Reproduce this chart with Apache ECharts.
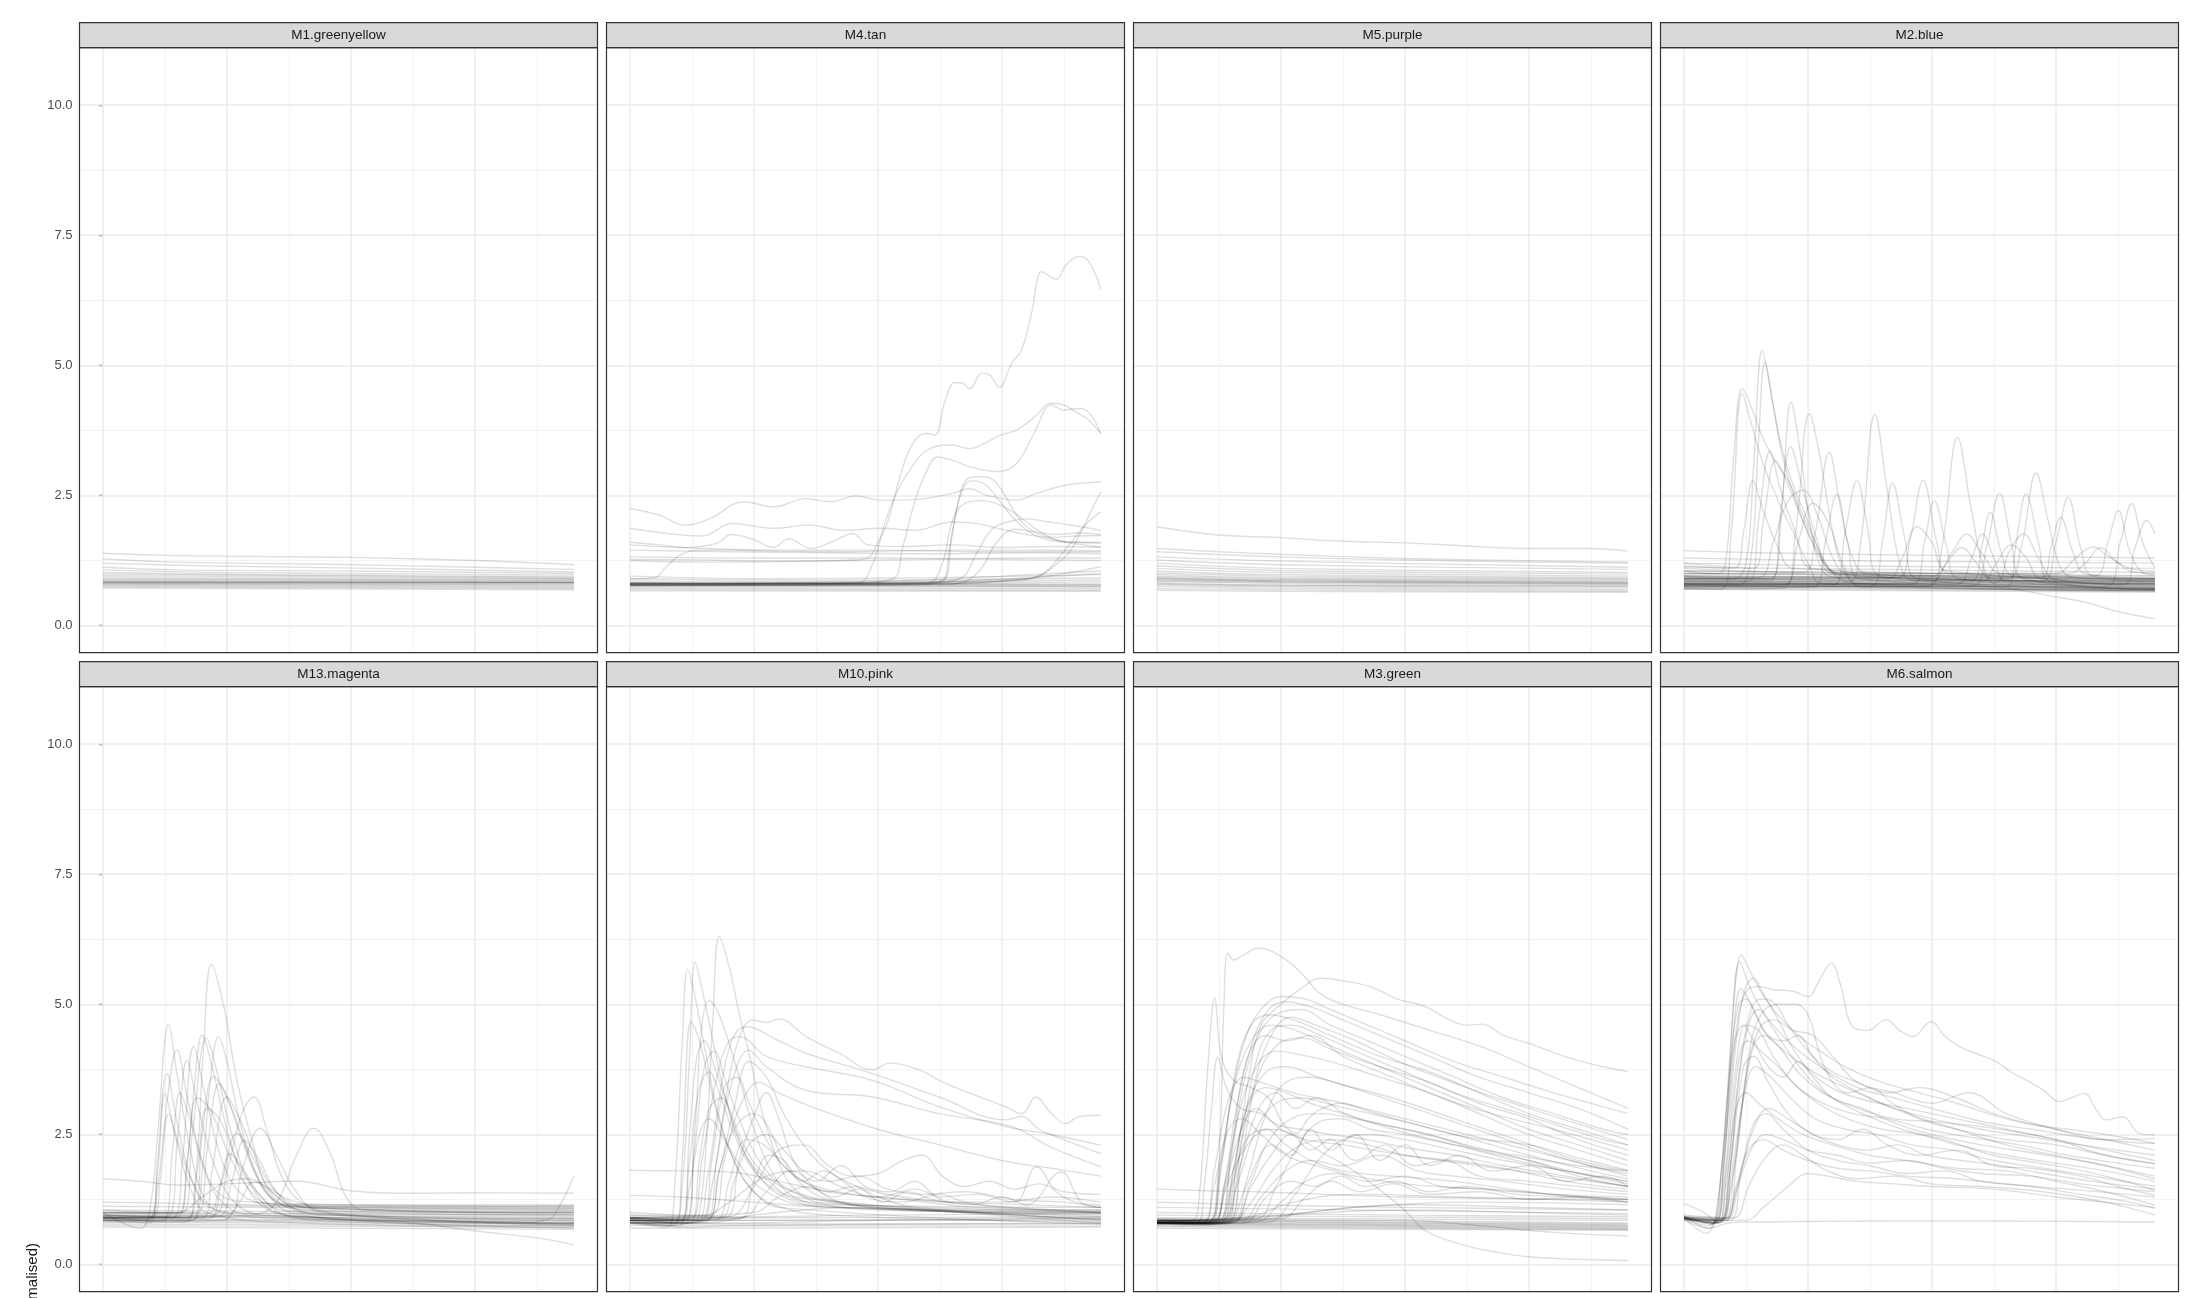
<!DOCTYPE html>
<html><head><meta charset="utf-8">
<script src="https://cdn.jsdelivr.net/npm/echarts@6/dist/echarts.min.js"></script>
<style>html,body{margin:0;padding:0;background:#fff}#chart{width:2200px;height:1298px}</style>
</head><body><div id="chart"></div>
<script>
// ---------- labels / breaks ----------
const panelNames = ['M1.greenyellow','M4.tan','M5.purple','M2.blue','M13.magenta','M10.pink','M3.green','M6.salmon'];
const yMajorBreaks = [0, 2.5, 5, 7.5, 10];
const yMinorBreaks = [1.25, 3.75, 6.25, 8.75];
const xMajorBreaks = [0, 50, 100, 150];
const xMinorBreaks = [25, 75, 125, 175];
const yAxisTitle = 'Fluorescence (normalised)';

// ---------- traces: each line is a list of [time, value] ----------
const m1Lines = [
 [[0,1.39],[25,1.35],[60,1.33],[100,1.31],[150,1.25],[190,1.17]],
 [[0,1.28],[30,1.22],[90,1.18],[150,1.12],[190,1.08]],
 [[0,1.2],[40,1.15],[110,1.1],[190,1.03]],
 [[0,1.12],[30,1.07],[100,1.05],[190,1.0]],
 [[0,1.07],[50,1.02],[190,0.97]],
 [[0,1.02],[60,0.98],[190,0.94]],
 [[0,0.99],[190,0.92]],
 [[0,0.96],[190,0.9]],
 [[0,0.93],[100,0.9],[190,0.89]],
 [[0,0.9],[190,0.87]],
 [[0,0.88],[190,0.86]],
 [[0,0.86],[190,0.84]],
 [[0,0.85],[190,0.83]],
 [[0,0.84],[190,0.83]],
 [[0,0.83],[190,0.82]],
 [[0,0.83],[190,0.83]],
 [[0,0.82],[190,0.81]],
 [[0,0.81],[190,0.79]],
 [[0,0.8],[190,0.77]],
 [[0,0.78],[190,0.75]],
 [[0,0.76],[190,0.73]],
 [[0,0.74],[190,0.71]],
 [[0,0.72],[190,0.69]]
];

const m4Lines = [
 [[0,1.27],[30,1.26],[60,1.24],[90,1.26],[96,1.3],[100,1.6],[104,2.0],[108,2.7],[112,3.3],[116,3.62],[120,3.69],[123,3.66],[127,4.3],[131,4.67],[134,4.66],[137,4.55],[142,4.85],[145,4.82],[149,4.58],[154,5.04],[158,5.3],[162,6.0],[166,6.8],[169,6.72],[172,6.65],[176,6.93],[181,7.09],[185,7.0],[190,6.46]],
 [[0,0.82],[50,0.8],[92,0.82],[98,1.2],[103,2.0],[108,2.6],[113,3.0],[118,3.3],[124,3.45],[130,3.47],[137,3.4],[143,3.5],[149,3.65],[156,3.76],[163,4.0],[170,4.27],[175,4.24],[180,4.1],[185,3.95],[190,3.69]],
 [[0,0.82],[90,0.82],[106,0.9],[110,1.5],[115,2.4],[120,3.0],[124,3.24],[130,3.18],[137,3.05],[145,2.97],[149,2.96],[156,3.12],[163,3.69],[170,4.24],[175,4.14],[181,4.17],[185,4.1],[190,3.69]],
 [[0,0.78],[100,0.8],[125,0.85],[129,1.5],[133,2.5],[137,2.84],[142,2.86],[146,2.82],[150,2.6],[155,2.2],[160,1.9],[168,1.7],[176,1.6],[183,1.55],[190,1.51]],
 [[0,0.76],[110,0.78],[126,0.85],[130,1.8],[134,2.6],[138,2.78],[143,2.72],[149,2.4],[156,2.0],[163,1.75],[172,1.62],[180,1.6],[190,1.58]],
 [[0,0.8],[120,0.82],[126,1.2],[130,2.0],[135,2.35],[142,2.4],[150,2.3],[157,2.1],[164,1.85],[172,1.65],[181,1.6],[190,1.6]],
 [[0,2.25],[12,2.12],[22,1.93],[32,2.05],[46,2.38],[58,2.28],[71,2.44],[81,2.38],[91,2.49],[101,2.41],[115,2.42],[130,2.54],[137,2.63],[144,2.5],[156,2.41],[164,2.54],[176,2.7],[190,2.76]],
 [[0,1.87],[15,1.77],[29,1.72],[41,1.96],[58,1.87],[72,1.93],[87,1.83],[101,1.87],[115,1.83],[130,1.99],[140,1.96],[150,1.85],[160,1.75],[170,1.7],[180,1.72],[190,1.73]],
 [[0,1.6],[12,1.55],[22,1.5],[35,1.58],[41,1.75],[50,1.65],[58,1.5],[64,1.67],[73,1.48],[82,1.62],[90,1.77],[96,1.55],[110,1.52],[130,1.55],[150,1.5],[170,1.52],[190,1.5]],
 [[0,1.55],[30,1.48],[60,1.45],[100,1.45],[140,1.42],[190,1.42]],
 [[0,1.45],[40,1.42],[80,1.4],[120,1.38],[160,1.4],[190,1.38]],
 [[0,1.25],[30,1.22],[60,1.23],[90,1.25],[130,1.28],[160,1.3],[190,1.3]],
 [[0,1.32],[50,1.3],[100,1.3],[150,1.27],[190,1.25]],
 [[0,0.9],[10,0.92],[14,1.1],[20,1.35],[28,1.45],[40,1.45],[60,1.43],[90,1.42],[130,1.45],[160,1.45],[190,1.44]],
 [[0,0.78],[100,0.8],[150,0.85],[165,0.95],[172,1.25],[178,1.6],[184,1.95],[190,2.19]],
 [[0,0.8],[120,0.83],[160,0.9],[175,1.3],[182,1.8],[186,2.2],[190,2.57]],
 [[0,0.77],[100,0.78],[140,0.82],[160,0.9],[175,1.0],[190,1.13]],
 [[0,0.8],[120,0.82],[133,0.9],[140,1.4],[146,1.85],[153,2.0],[160,2.05],[168,2.0],[175,1.95],[182,1.9],[190,1.83]],
 [[0,0.78],[130,0.8],[140,1.0],[148,1.6],[155,1.85],[163,1.8],[172,1.75],[181,1.78],[190,1.75]],
 [[0,0.95],[60,0.9],[120,0.92],[190,0.98]],
 [[0,0.9],[80,0.87],[190,0.92]],
 [[0,0.86],[100,0.84],[190,0.88]],
 [[0,0.83],[100,0.81],[190,0.84]],
 [[0,0.81],[190,0.8]],
 [[0,0.8],[190,0.78]],
 [[0,0.78],[190,0.77]],
 [[0,0.77],[190,0.75]],
 [[0,0.75],[190,0.74]],
 [[0,0.72],[190,0.71]],
 [[0,0.7],[190,0.68]],
 [[0,0.67],[190,0.66]],
 [[0,0.82],[100,0.85],[150,0.95],[190,1.05]],
 [[0,0.8],[120,0.84],[160,0.92],[190,1.0]]
];

const m5Lines = [
 [[0,1.9],[25,1.74],[50,1.69],[75,1.62],[100,1.59],[125,1.53],[150,1.48],[175,1.48],[190,1.43]],
 [[0,1.48],[25,1.42],[50,1.37],[100,1.29],[190,1.22]],
 [[0,1.42],[50,1.32],[100,1.26],[190,1.2]],
 [[0,1.32],[50,1.24],[190,1.12]],
 [[0,1.26],[50,1.17],[190,1.08]],
 [[0,1.2],[50,1.1],[190,1.02]],
 [[0,1.15],[50,1.06],[190,0.99]],
 [[0,1.1],[50,1.02],[190,0.95]],
 [[0,1.05],[50,0.98],[190,0.92]],
 [[0,1.01],[50,0.95],[190,0.9]],
 [[0,0.98],[50,0.92],[190,0.88]],
 [[0,0.95],[50,0.9],[190,0.86]],
 [[0,0.93],[50,0.88],[190,0.84]],
 [[0,0.91],[50,0.86],[190,0.82]],
 [[0,0.9],[50,0.86],[190,0.83]],
 [[0,0.88],[50,0.84],[190,0.8]],
 [[0,0.86],[50,0.83],[190,0.81]],
 [[0,0.85],[50,0.81],[190,0.78]],
 [[0,0.82],[50,0.78],[190,0.76]],
 [[0,0.8],[50,0.77],[190,0.75]],
 [[0,0.78],[50,0.75],[190,0.72]],
 [[0,0.75],[50,0.72],[190,0.69]],
 [[0,0.71],[50,0.69],[190,0.66]],
 [[0,0.68],[50,0.66],[190,0.64]]
];

const m2Lines = [
 [[0,1.44],[30,1.4],[100,1.35],[190,1.3]],
 [[0,1.3],[60,1.25],[190,1.2]],
 [[0,1.2],[60,1.15],[190,1.1]],
 [[0,1.12],[190,1.02]],
 [[0,1.05],[190,0.96]],
 [[0,1.0],[190,0.92]],
 [[0,0.96],[190,0.88]],
 [[0,0.92],[190,0.85]],
 [[0,0.9],[190,0.82]],
 [[0,0.87],[190,0.8]],
 [[0,0.85],[190,0.78]],
 [[0,0.84],[190,0.76]],
 [[0,0.82],[190,0.74]],
 [[0,0.8],[190,0.72]],
 [[0,0.78],[190,0.7]],
 [[0,0.76],[190,0.69]],
 [[0,0.74],[190,0.68]],
 [[0,0.72],[190,0.66]],
 [[0,0.7],[190,0.64]],
 [[0,0.82],[100,0.78],[130,0.72],[150,0.55],[162,0.45],[174,0.28],[190,0.13]],
 [[0,0.95],[20,0.9],[25,1.2],[28,3.0],[31.6,5.29],[35,4.5],[39,3.5],[44,2.7],[50,2.0],[56,1.3],[62,1.0],[100,0.9],[190,0.82]],
 [[0,0.8],[22,0.78],[27,1.3],[30,3.5],[32.7,5.07],[36,4.2],[40,3.2],[45,2.4],[52,1.6],[60,1.0],[70,0.8],[190,0.66]],
 [[0,1.05],[14,1.0],[17,1.3],[20,3.2],[23.5,4.55],[28,4.1],[31,3.69],[35,3.3],[39,3.0],[43,2.7],[46,2.34],[50,1.9],[53,1.6],[58,1.12],[64,0.95],[190,0.85]],
 [[0,0.72],[15,0.7],[19,1.8],[23.5,4.46],[27,3.9],[32,3.1],[38,2.4],[44,1.8],[50,1.2],[56,0.8],[190,0.68]],
 [[0,0.9],[35,0.9],[39,2.0],[43.2,4.29],[47,3.3],[51,1.9],[56,1.05],[62,0.92],[190,0.86]],
 [[0,0.7],[40,0.72],[45,1.8],[50.6,4.07],[55,3.2],[60,1.8],[65,1.0],[72,0.74],[190,0.68]],
 [[0,0.85],[66,0.84],[71,1.5],[77,4.06],[82,2.6],[87,1.2],[92,0.88],[190,0.8]],
 [[0,0.75],[98,0.76],[104,1.5],[110.3,3.62],[116,2.2],[121,1.1],[126,0.8],[190,0.72]],
 [[0,0.92],[130,0.9],[136,1.5],[142,2.93],[147,2.0],[152,1.1],[158,0.92],[190,0.88]],
 [[0,0.74],[116,0.76],[122,1.5],[127.3,2.54],[132,1.6],[137,0.9],[190,0.7]],
 [[0,0.88],[144,0.86],[150,1.6],[155,2.46],[160,1.5],[165,0.95],[190,0.85]],
 [[0,0.78],[170,0.75],[176,1.6],[180.6,2.34],[185,1.6],[190,1.1]],
 [[0,1.0],[165,0.95],[171,1.6],[175.2,2.21],[180,1.4],[186,1.0],[190,0.98]],
 [[0,0.82],[177,0.78],[182,1.5],[186.7,2.02],[190,1.76]],
 [[0,0.95],[86,0.92],[91,1.6],[96.5,2.79],[102,1.6],[107,1.0],[190,0.9]],
 [[0,0.76],[75,0.75],[80,1.6],[84.1,2.74],[89,1.7],[94,0.9],[190,0.7]],
 [[0,1.1],[48,1.02],[53,1.8],[58.6,3.33],[63,2.3],[68,1.3],[74,1.0],[190,0.92]],
 [[0,0.8],[60,0.78],[65,1.8],[69.8,2.79],[74,1.9],[79,0.95],[190,0.72]],
 [[0,0.86],[26,0.85],[30,2.0],[34.7,3.35],[39,2.6],[45,1.8],[52,1.1],[190,0.8]],
 [[0,1.15],[20,1.1],[24,1.8],[27.8,2.79],[32,2.2],[38,1.5],[44,1.1],[190,0.95]],
 [[0,0.78],[110,0.8],[116,1.3],[120.4,1.76],[125,1.3],[130,0.85],[190,0.74]],
 [[0,0.9],[116,0.86],[120,1.5],[123.5,2.18],[128,1.4],[133,0.95],[190,0.84]],
 [[0,0.8],[92,0.8],[97,1.6],[101,2.4],[106,1.5],[111,0.9],[190,0.74]],
 [[0,0.95],[144,0.92],[148,1.5],[152,2.08],[157,1.4],[162,1.0],[190,0.9]],
 [[0,0.76],[130,0.75],[134,1.6],[138,2.53],[143,1.6],[148,0.85],[190,0.7]],
 [[0,1.0],[150,1.0],[158,1.3],[165,1.51],[172,1.3],[180,1.1],[190,1.05]],
 [[0,0.88],[35,0.86],[39,2.2],[43,3.43],[48,2.6],[54,1.6],[60,1.0],[190,0.82]],
 [[0,1.2],[28,1.1],[32,2.0],[37,3.17],[42,2.7],[48,2.0],[55,1.3],[62,1.0],[190,0.9]],
 [[0,0.72],[52,0.74],[57,1.6],[61.7,2.53],[66,1.6],[71,0.9],[190,0.7]],
 [[0,0.92],[100,0.95],[108,1.4],[114,1.76],[120,1.4],[128,1.0],[190,0.9]],
 [[0,0.8],[125,0.82],[131,1.4],[137,1.76],[143,1.3],[150,0.88],[190,0.76]],
 [[0,0.95],[30,0.92],[36,1.6],[42,2.4],[48,2.6],[54,2.1],[60,1.3],[66,1.0],[190,0.88]],
 [[0,0.76],[40,0.78],[46,1.6],[52,2.35],[58,2.0],[64,1.2],[70,0.82],[190,0.72]],
 [[0,0.9],[82,0.9],[88,1.3],[94,1.9],[100,1.6],[106,1.05],[190,0.86]],
 [[0,0.8],[120,0.84],[126,1.2],[132,1.55],[138,1.3],[144,0.9],[190,0.78]],
 [[0,1.05],[155,1.0],[162,1.2],[168,1.5],[174,1.25],[180,1.05],[190,1.0]],
 [[0,0.84],[100,0.85],[106,1.2],[112,1.5],[118,1.2],[124,0.9],[190,0.8]]
];

const m13Lines = [
 [[0,1.65],[15,1.6],[31,1.53],[50,1.55],[78,1.6],[100,1.42],[125,1.37],[150,1.38],[190,1.37]],
 [[0,0.9],[60,0.92],[100,0.85],[125,0.8],[150,0.65],[177,0.5],[190,0.38]],
 [[0,0.85],[100,0.85],[170,0.82],[180,0.88],[185,1.2],[190,1.7]],
 [[0,0.85],[33,0.82],[37,1.5],[40.6,4.19],[43.7,5.77],[48.7,4.96],[54,3.54],[60.8,2.26],[66,1.49],[74,1.14],[90,1.08],[130,1.05],[190,1.05]],
 [[0,1.0],[15,0.7],[19,1.1],[22,2.5],[26.5,4.62],[29.8,3.67],[35,2.26],[40.6,1.3],[48,1.0],[80,0.88],[190,0.78]],
 [[0,0.9],[18,0.85],[22,1.5],[26,3.2],[29.8,4.13],[34,3.2],[40,2.0],[47,1.35],[60,1.2],[100,1.12],[190,1.1]],
 [[0,0.95],[30,0.92],[34,2.0],[37,3.5],[40,4.41],[44,3.8],[50,2.6],[57,1.6],[65,1.1],[80,0.92],[190,0.8]],
 [[0,0.88],[36,0.85],[40,1.8],[43,3.4],[46.6,4.38],[50,3.9],[55,2.8],[62,1.7],[70,1.2],[85,1.05],[190,1.0]],
 [[0,1.0],[32,1.0],[36,2.5],[41.8,4.35],[46,3.7],[52,2.5],[60,1.5],[70,1.0],[100,0.82],[190,0.75]],
 [[0,0.92],[28,0.9],[32,2.0],[36.6,4.19],[41,3.3],[48,2.0],[56,1.35],[66,1.18],[190,1.12]],
 [[0,0.95],[26,0.92],[30,2.4],[33.9,3.93],[38,3.1],[45,1.9],[53,1.2],[65,0.95],[190,0.82]],
 [[0,0.85],[19,0.8],[22,2.0],[25.8,3.67],[30,2.7],[36,1.6],[43,1.1],[60,0.98],[190,0.95]],
 [[0,0.9],[18,0.88],[22,1.8],[25,3.29],[29,2.5],[35,1.5],[42,1.0],[80,0.8],[190,0.72]],
 [[0,0.95],[20,0.92],[23,1.6],[26.5,2.9],[30,2.4],[36,1.6],[44,1.15],[100,1.1],[190,1.08]],
 [[0,0.85],[36,0.85],[40,2.5],[44.6,3.61],[50,3.2],[56,2.4],[63,1.6],[72,1.15],[90,0.95],[190,0.9]],
 [[0,1.0],[38,1.0],[42,2.2],[47,3.48],[52,3.0],[58,2.2],[66,1.4],[76,1.0],[110,0.85],[190,0.78]],
 [[0,0.9],[40,0.9],[44,1.8],[50,3.22],[56,2.7],[63,1.9],[72,1.3],[85,1.08],[190,1.02]],
 [[0,0.95],[44,0.95],[50,1.8],[56,2.9],[60.8,3.22],[66,2.6],[72,1.7],[80,1.2],[95,0.98],[190,0.85]],
 [[0,0.88],[42,0.88],[48,1.6],[54,2.52],[60,2.1],[68,1.4],[78,1.15],[190,1.15]],
 [[0,0.92],[50,0.95],[56,1.8],[63.4,2.62],[70,2.1],[78,1.4],[88,1.0],[190,0.8]],
 [[0,0.9],[46,0.92],[52,1.6],[57,2.39],[63,2.0],[70,1.4],[80,1.05],[190,0.95]],
 [[0,0.98],[42,0.98],[47,1.5],[51.3,2.13],[57,1.8],[64,1.3],[75,0.95],[190,0.7]],
 [[0,0.9],[60,0.95],[70,1.2],[78,2.1],[85,2.62],[92,2.1],[98,1.3],[105,1.05],[190,1.0]],
 [[0,1.05],[30,1.0],[40,1.3],[50,1.6],[58,1.65],[66,1.5],[75,1.25],[90,1.12],[190,1.12]],
 [[0,0.82],[48,0.85],[55,1.2],[61,1.59],[68,1.4],[76,1.1],[90,0.95],[190,0.88]],
 [[0,0.92],[34,0.9],[38,1.8],[42,3.0],[47,2.8],[54,2.0],[62,1.4],[72,1.05],[190,0.76]],
 [[0,1.0],[30,0.98],[34,2.0],[38,3.2],[43,3.0],[50,2.2],[58,1.5],[68,1.15],[190,0.98]],
 [[0,0.86],[24,0.84],[28,2.2],[31,3.3],[35,2.8],[41,1.8],[48,1.2],[60,0.95],[190,0.86]],
 [[0,1.2],[60,1.15],[100,1.1],[190,1.08]],
 [[0,1.12],[60,1.1],[190,1.05]],
 [[0,1.05],[80,1.02],[190,1.0]],
 [[0,1.0],[190,0.96]],
 [[0,0.95],[190,0.92]],
 [[0,0.92],[190,0.88]],
 [[0,0.88],[190,0.84]],
 [[0,0.85],[190,0.8]],
 [[0,0.82],[190,0.78]],
 [[0,0.78],[190,0.75]],
 [[0,0.75],[190,0.72]],
 [[0,0.72],[190,0.68]]
];

const m10Lines = [
 [[0,0.85],[25,0.8],[28,1.0],[31,2.5],[33.5,4.8],[36,6.31],[40,5.72],[44,4.83],[48,4.06],[53.5,2.9],[60.2,1.94],[65.6,1.49],[75,1.2],[100,1.05],[190,1.0]],
 [[0,0.85],[17,0.75],[21,1.5],[24,4.0],[26.3,5.82],[29,5.3],[33,4.4],[38,3.3],[44,2.4],[52,1.7],[62,1.3],[80,1.1],[190,1.05]],
 [[0,0.8],[15,0.72],[18,1.5],[21,4.2],[23.3,5.67],[26,5.2],[30,4.2],[35,3.0],[41,2.1],[48,1.5],[58,1.15],[80,0.95],[190,0.82]],
 [[0,0.9],[22,0.85],[26,2.5],[29,4.6],[32,5.07],[35,4.9],[39,4.4],[44,3.6],[50,2.6],[57,1.8],[66,1.3],[80,1.15],[190,1.1]],
 [[0,0.85],[18,0.8],[21,2.0],[24.6,4.67],[28,4.3],[32,3.5],[37,2.6],[43,1.9],[50,1.4],[60,1.1],[190,0.78]],
 [[0,0.85],[28,0.82],[33,1.5],[38,3.0],[43,4.2],[49.5,4.7],[55,4.65],[60.2,4.72],[71,4.38],[84.4,4.06],[97.8,3.74],[104.6,3.87],[116.7,3.74],[124.7,3.54],[134,3.35],[151.6,3.03],[158,2.9],[163.7,3.22],[170,2.9],[175.8,2.71],[181,2.84],[190,2.87]],
 [[0,0.8],[26,0.8],[31,1.6],[36,3.2],[41,4.3],[46.8,4.57],[60,4.3],[71,4.06],[97.8,3.67],[124.7,3.22],[151.6,2.78],[158,2.85],[165,2.6],[175,2.4],[190,2.13]],
 [[0,0.9],[24,0.88],[29,2.0],[35,3.6],[40,4.3],[44,4.38],[55,4.0],[71,3.8],[97.8,3.54],[124.7,3.03],[151.6,2.65],[170,2.5],[190,2.29]],
 [[0,0.85],[30,0.85],[35,2.0],[40,3.3],[48,4.12],[55,3.8],[71,3.35],[97.8,3.22],[124.7,2.9],[154,2.65],[170,2.25],[190,1.88]],
 [[0,0.95],[32,0.95],[38,2.0],[44,3.0],[52,3.5],[60,3.3],[75,3.0],[100,2.6],[125,2.3],[150,2.0],[170,1.85],[190,1.7]],
 [[0,0.8],[30,0.82],[36,1.8],[42,2.6],[50,2.9],[55,2.7],[62,2.0],[70,1.5],[80,1.25],[100,1.1],[190,0.88]],
 [[0,0.88],[38,0.9],[44,2.0],[50,2.85],[55,3.3],[60,2.8],[66,2.0],[74,1.5],[85,1.2],[110,1.05],[190,0.98]],
 [[0,0.85],[34,0.85],[40,1.6],[47,2.4],[54,2.3],[62,1.9],[70,1.6],[80,1.4],[90,1.5],[100,1.3],[115,1.1],[190,0.92]],
 [[0,0.9],[20,0.85],[24,2.0],[28,3.4],[32,3.7],[36,3.3],[42,2.5],[50,1.8],[60,1.4],[72,1.2],[190,1.02]],
 [[0,0.82],[24,0.8],[28,2.0],[32,3.0],[37,3.2],[42,2.6],[48,2.0],[56,1.6],[66,1.3],[190,0.86]],
 [[0,0.88],[20,0.82],[24,1.5],[28,2.5],[32,2.8],[38,2.4],[46,1.8],[55,1.4],[70,1.15],[190,0.95]],
 [[0,0.85],[44,0.88],[50,1.6],[56,2.1],[62,2.0],[70,1.6],[78,1.8],[86,1.6],[95,1.3],[110,1.2],[125,1.35],[135,1.2],[150,1.1],[190,1.0]],
 [[0,0.9],[40,0.92],[50,1.5],[60,2.2],[70,2.3],[80,1.9],[90,1.7],[100,1.75],[110,2.0],[118,2.1],[126,1.7],[135,1.5],[145,1.6],[155,1.45],[165,1.55],[175,1.4],[190,1.35]],
 [[0,0.85],[45,0.9],[55,1.4],[65,1.8],[75,1.6],[85,1.9],[95,1.5],[105,1.4],[115,1.6],[125,1.3],[140,1.35],[155,1.2],[164,1.88],[172,1.4],[180,1.2],[190,1.15]],
 [[0,0.9],[50,1.0],[60,1.3],[72,1.5],[82,1.3],[92,1.45],[102,1.2],[112,1.4],[122,1.25],[138,1.15],[150,1.3],[160,1.15],[174,1.78],[182,1.2],[190,1.1]],
 [[0,0.92],[30,0.95],[40,1.2],[55,1.7],[70,1.8],[85,1.5],[100,1.3],[115,1.45],[130,1.2],[150,1.2],[170,1.3],[190,1.2]],
 [[0,1.81],[20,1.8],[40,1.78],[60,1.6],[80,1.4],[100,1.3],[130,1.2],[160,1.15],[190,1.1]],
 [[0,1.33],[20,1.3],[35,1.25],[50,1.2],[80,1.1],[120,1.05],[190,1.0]],
 [[0,0.8],[30,0.8],[50,0.95],[70,1.05],[90,1.1],[120,1.05],[190,1.0]],
 [[0,0.82],[22,0.78],[26,2.2],[30,3.8],[34,4.1],[38,3.6],[44,2.8],[52,2.0],[62,1.5],[75,1.25],[100,1.1],[140,1.0],[190,0.85]],
 [[0,0.88],[28,0.85],[33,2.0],[38,3.4],[43,3.6],[48,3.1],[55,2.4],[64,1.8],[75,1.5],[90,1.35],[110,1.25],[140,1.1],[190,1.05]],
 [[0,0.9],[36,0.9],[42,1.6],[48,2.3],[55,2.5],[62,2.2],[70,1.8],[80,1.6],[92,1.7],[104,1.45],[118,1.35],[135,1.4],[155,1.25],[175,1.2],[190,1.1]],
 [[0,0.85],[30,0.84],[36,1.8],[42,3.0],[48,3.9],[55,3.6],[62,2.9],[70,2.3],[80,1.8],[92,1.5],[110,1.3],[140,1.15],[190,1.0]],
 [[0,0.8],[20,0.75],[24,2.5],[27,4.0],[30,4.3],[34,3.8],[40,3.0],[47,2.2],[55,1.7],[66,1.4],[85,1.2],[120,1.05],[190,0.8]],
 [[0,1.0],[20,0.95],[40,0.92],[100,0.95],[190,0.98]],
 [[0,0.95],[50,0.9],[190,0.92]],
 [[0,0.9],[40,0.85],[190,0.9]],
 [[0,0.88],[20,0.8],[40,0.8],[100,0.85],[190,0.88]],
 [[0,0.85],[190,0.85]],
 [[0,0.82],[25,0.72],[40,0.75],[190,0.8]],
 [[0,0.78],[190,0.78]],
 [[0,0.75],[190,0.74]],
 [[0,0.7],[190,0.72]]
];

const m3Lines = [
 [[0,0.8],[22,0.78],[25,2.0],[27,5.0],[28.6,5.98],[31,5.85],[35,5.95],[41,6.08],[49,5.95],[57,5.66],[66,5.2],[75,5.0],[90,4.8],[110,4.5],[130,4.2],[150,3.8],[170,3.4],[190,3.0]],
 [[0,0.82],[28,0.8],[32,2.0],[37,3.6],[42,4.6],[50,5.0],[58,5.3],[66,5.5],[75,5.45],[86,5.34],[97,5.1],[108,4.96],[118,4.7],[125,4.6],[131,4.62],[140,4.4],[150,4.25],[165,3.99],[180,3.8],[190,3.71]],
 [[0,0.85],[14,0.85],[17,1.3],[20.6,3.87],[23.3,5.12],[25.9,4.0],[30.6,3.55],[38,3.4],[45,3.2],[51,2.7],[56,2.52],[61,2.8],[65.6,2.97],[74,3.1],[85,2.95],[100,2.75],[125,2.45],[150,2.3],[170,2.05],[190,1.81]],
 [[0,0.82],[16,0.8],[19,1.5],[22,3.0],[24.6,3.99],[28,3.4],[34,3.0],[42,2.9],[50,2.6],[60,2.4],[75,2.3],[100,2.1],[130,1.9],[160,1.7],[190,1.5]],
 [[0,0.8],[20,0.8],[25,1.6],[30,3.2],[36,4.4],[42,4.9],[50,5.15],[60,5.1],[70,4.9],[85,4.6],[100,4.3],[120,3.9],[140,3.6],[160,3.3],[175,3.1],[190,2.9]],
 [[0,0.78],[22,0.76],[27,1.5],[32,3.0],[38,4.2],[45,4.9],[52,5.05],[62,4.95],[75,4.7],[90,4.4],[110,4.0],[130,3.6],[150,3.3],[170,3.0],[190,2.6]],
 [[0,0.85],[24,0.82],[29,1.8],[35,3.5],[42,4.5],[50,4.85],[58,4.9],[70,4.6],[85,4.3],[100,4.0],[120,3.6],[140,3.2],[160,2.9],[180,2.6],[190,2.5]],
 [[0,0.8],[26,0.78],[31,1.6],[38,3.2],[45,4.3],[54,4.75],[64,4.6],[80,4.3],[100,3.85],[125,3.4],[150,3.0],[170,2.7],[190,2.4]],
 [[0,0.82],[20,0.8],[25,1.8],[31,3.4],[38,4.3],[46,4.6],[56,4.5],[70,4.2],[90,3.8],[110,3.4],[130,3.0],[150,2.6],[170,2.3],[190,2.0]],
 [[0,0.85],[28,0.82],[34,2.0],[40,3.5],[48,4.2],[58,4.35],[72,4.1],[90,3.8],[110,3.5],[130,3.1],[150,2.8],[170,2.4],[190,2.1]],
 [[0,0.8],[22,0.8],[27,1.5],[33,2.9],[40,3.8],[48,4.1],[56,4.05],[70,3.9],[90,3.6],[110,3.3],[130,2.9],[150,2.5],[170,2.2],[190,1.9]],
 [[0,0.82],[25,0.8],[30,1.6],[36,3.0],[44,3.7],[52,3.8],[65,3.6],[85,3.3],[110,2.9],[135,2.5],[160,2.1],[190,1.7]],
 [[0,0.85],[30,0.84],[36,1.6],[44,2.9],[52,3.5],[62,3.6],[75,3.45],[95,3.2],[120,2.8],[145,2.4],[170,2.0],[190,1.8]],
 [[0,0.8],[18,0.78],[23,1.8],[29,3.2],[35,3.6],[42,3.5],[55,3.3],[75,3.1],[100,2.8],[125,2.5],[150,2.2],[175,1.9],[190,1.75]],
 [[0,0.88],[26,0.86],[32,1.5],[40,2.6],[48,3.1],[58,3.2],[72,3.05],[95,2.8],[120,2.5],[150,2.1],[175,1.8],[190,1.65]],
 [[0,0.8],[28,0.78],[35,1.4],[44,2.3],[54,2.8],[66,2.9],[80,2.8],[100,2.6],[125,2.3],[150,2.0],[175,1.7],[190,1.55]],
 [[0,0.82],[30,0.82],[38,1.2],[48,1.9],[58,2.3],[70,2.4],[85,2.3],[100,2.1],[120,2.0],[140,1.85],[165,1.6],[190,1.45]],
 [[0,0.85],[34,0.85],[42,1.3],[52,1.8],[62,2.0],[75,1.9],[90,2.1],[105,1.8],[120,1.7],[140,1.6],[165,1.45],[190,1.35]],
 [[0,0.8],[40,0.82],[50,1.2],[60,1.6],[72,1.75],[85,1.6],[100,1.7],[115,1.5],[135,1.45],[160,1.35],[190,1.25]],
 [[0,0.78],[24,0.78],[30,1.5],[36,2.4],[44,2.6],[52,2.3],[62,2.0],[75,1.8],[95,1.7],[120,1.6],[150,1.4],[190,1.2]],
 [[0,0.82],[30,0.82],[38,1.6],[46,2.3],[54,2.1],[62,2.6],[70,2.2],[80,2.5],[90,2.0],[100,2.3],[110,1.9],[122,2.1],[135,1.8],[150,1.9],[165,1.6],[180,1.7],[190,1.5]],
 [[0,0.85],[50,0.88],[60,1.3],[70,1.6],[82,1.4],[95,1.55],[110,1.35],[130,1.4],[150,1.25],[170,1.3],[190,1.2]],
 [[0,0.8],[45,0.82],[55,1.3],[65,2.0],[75,2.4],[86,2.5],[100,2.4],[120,2.2],[140,2.0],[165,1.8],[190,1.6]],
 [[0,0.82],[22,0.8],[28,1.5],[35,2.2],[45,2.6],[55,2.5],[65,2.2],[76,1.9],[86.5,1.56],[100,1.04],[108,0.66],[122,0.4],[137,0.24],[150,0.15],[170,0.1],[190,0.08]],
 [[0,0.85],[100,0.85],[130,0.75],[160,0.62],[190,0.55]],
 [[0,0.8],[20,0.8],[26,2.0],[32,3.8],[38,4.6],[45,4.8],[55,4.7],[70,4.4],[90,4.0],[110,3.7],[130,3.3],[150,2.9],[170,2.6],[190,2.3]],
 [[0,0.84],[24,0.82],[30,2.2],[36,3.9],[44,4.4],[52,4.3],[62,4.4],[75,4.0],[95,3.6],[115,3.2],[135,2.9],[160,2.6],[190,2.2]],
 [[0,0.82],[26,0.8],[33,1.8],[40,2.9],[48,3.3],[56,3.0],[64,3.2],[76,2.9],[90,2.7],[110,2.5],[130,2.2],[150,2.0],[170,1.7],[190,1.5]],
 [[0,0.8],[30,0.8],[38,1.5],[46,2.1],[54,2.5],[62,2.2],[70,2.4],[80,2.0],[92,2.3],[104,1.9],[116,2.0],[130,1.7],[150,1.6],[170,1.5],[190,1.4]],
 [[0,0.86],[22,0.84],[28,1.6],[34,2.6],[40,3.0],[48,2.7],[58,2.6],[70,2.5],[85,2.4],[100,2.25],[120,2.1],[140,1.9],[165,1.7],[190,1.5]],
 [[0,0.78],[35,0.8],[44,1.3],[54,1.6],[64,1.5],[74,1.7],[84,1.5],[96,1.6],[110,1.4],[125,1.5],[145,1.35],[170,1.3],[190,1.25]],
 [[0,0.82],[28,0.8],[34,2.4],[40,3.9],[46,4.5],[54,4.6],[66,4.4],[80,4.1],[100,3.7],[120,3.3],[140,3.0],[160,2.7],[180,2.4],[190,2.3]],
 [[0,0.8],[25,0.8],[31,1.9],[37,3.1],[44,3.4],[52,3.3],[62,3.1],[75,2.9],[95,2.6],[120,2.3],[145,2.0],[170,1.75],[190,1.6]],
 [[0,0.85],[40,0.88],[48,1.5],[56,2.2],[64,2.7],[74,2.8],[86,2.6],[100,2.5],[120,2.3],[145,2.1],[170,1.9],[190,1.8]],
 [[0,0.8],[18,0.8],[23,1.5],[28,2.5],[34,2.8],[42,2.5],[52,2.1],[64,1.9],[80,1.7],[100,1.55],[130,1.45],[160,1.35],[190,1.3]],
 [[0,1.45],[20,1.42],[40,1.4],[100,1.3],[190,1.25]],
 [[0,1.2],[40,1.15],[100,1.1],[190,1.05]],
 [[0,1.1],[190,0.98]],
 [[0,1.0],[100,0.95],[190,0.92]],
 [[0,0.95],[190,0.88]],
 [[0,0.9],[190,0.85]],
 [[0,0.88],[190,0.8]],
 [[0,0.85],[190,0.78]],
 [[0,0.84],[190,0.76]],
 [[0,0.82],[190,0.75]],
 [[0,0.8],[190,0.73]],
 [[0,0.79],[190,0.72]],
 [[0,0.77],[190,0.7]],
 [[0,0.75],[190,0.69]],
 [[0,0.73],[190,0.67]],
 [[0,0.7],[190,0.66]],
 [[0,0.8],[50,0.95],[100,1.05],[150,1.0],[190,0.95]],
 [[0,0.82],[40,0.9],[80,1.1],[130,1.2],[190,1.15]],
 [[0,0.85],[35,0.9],[55,1.2],[80,1.35],[120,1.3],[160,1.25],[190,1.2]],
 [[0,0.8],[40,0.85],[60,1.0],[100,1.15],[150,1.1],[190,1.05]]
];

const m6Lines = [
 [[0,0.9],[10,0.75],[14,1.0],[18,3.0],[22,4.8],[26,5.3],[30,5.34],[36,5.28],[44,5.25],[50,5.15],[55,5.5],[59.4,5.79],[63,5.4],[68,4.57],[74,4.5],[81.6,4.7],[87,4.5],[92.3,4.38],[99.7,4.67],[105,4.4],[111,4.19],[118,4.05],[126,3.9],[132,3.7],[139.4,3.51],[145,3.35],[151.5,3.13],[156,3.2],[161.6,3.29],[166,3.0],[170.3,2.78],[177,2.84],[183.7,2.52],[190,2.49]],
 [[0,0.9],[9,0.6],[13,1.0],[17,3.0],[20,5.0],[23.1,5.95],[26,5.7],[30.5,5.28],[37.2,4.83],[46.6,4.38],[55,4.1],[65,3.8],[80,3.5],[95,3.3],[110,3.1],[130,2.8],[150,2.6],[170,2.4],[190,2.2]],
 [[0,0.85],[10,0.7],[14,1.3],[18,3.5],[22.5,5.82],[26,5.4],[30,5.0],[36,4.6],[44,4.2],[55,3.8],[70,3.4],[85,3.2],[100,3.0],[120,2.75],[140,2.6],[160,2.45],[180,2.35],[190,2.33]],
 [[0,0.9],[12,0.8],[16,1.5],[20,3.8],[24,5.2],[28,5.5],[32,5.2],[38,4.7],[46,4.0],[56,3.5],[70,3.2],[90,3.0],[110,2.8],[130,2.6],[150,2.4],[170,2.1],[190,1.94]],
 [[0,0.88],[14,0.85],[18,1.6],[22,3.6],[27,4.9],[31,5.1],[36,5.05],[42,4.6],[50,4.1],[60,3.6],[75,3.2],[90,2.9],[110,2.6],[130,2.3],[150,2.1],[170,1.9],[190,1.65]],
 [[0,0.9],[16,0.88],[20,1.8],[25,3.6],[30,4.5],[36,4.7],[44,4.5],[52,4.4],[60,4.0],[70,3.5],[85,3.3],[100,3.1],[115,3.3],[130,2.9],[150,2.6],[170,2.4],[190,2.42]],
 [[0,0.95],[17,0.9],[21,2.0],[26,4.0],[31,4.8],[38,5.0],[45,5.0],[50,4.8],[55,4.0],[60,3.5],[66,3.3],[75,3.4],[84,3.1],[95,2.8],[110,2.6],[130,2.4],[150,2.3],[170,2.1],[190,1.94]],
 [[0,0.88],[12,0.8],[16,2.0],[20,4.2],[24,4.6],[28,4.3],[34,3.8],[40,3.6],[46,3.9],[52,3.6],[60,3.2],[72,2.9],[88,2.6],[105,2.4],[125,2.1],[150,1.9],[170,1.7],[190,1.43]],
 [[0,0.92],[15,0.85],[19,2.0],[24,3.8],[28,4.0],[34,3.5],[42,2.9],[52,2.5],[62,2.4],[72,2.6],[82,2.3],[95,2.1],[110,2.2],[125,1.9],[140,1.85],[160,1.7],[175,1.5],[190,1.33]],
 [[0,0.9],[13,0.8],[17,1.6],[21,3.0],[25,3.3],[30,3.1],[38,2.8],[48,2.5],[60,2.3],[75,2.1],[90,2.0],[110,1.85],[130,1.8],[150,1.6],[170,1.4],[190,1.14]],
 [[0,0.88],[18,0.85],[23,1.8],[28,2.7],[33,2.9],[40,2.6],[50,2.2],[62,2.0],[75,1.9],[90,1.75],[105,1.8],[120,1.6],[140,1.5],[160,1.35],[180,1.2],[190,1.08]],
 [[0,0.92],[20,0.9],[26,1.5],[32,2.0],[40,2.3],[48,2.1],[58,1.8],[70,1.65],[85,1.7],[100,1.55],[120,1.5],[145,1.4],[170,1.2],[190,0.95]],
 [[0,0.95],[10,0.7],[18,0.8],[28,0.82],[60,0.83],[100,0.84],[150,0.83],[190,0.82]],
 [[0,1.17],[8,1.0],[14,0.8],[19,1.5],[24,3.2],[28,4.2],[32,4.4],[38,4.2],[46,3.7],[56,3.3],[70,3.0],[85,2.8],[100,2.75],[120,2.65],[140,2.5],[160,2.3],[180,2.1],[190,2.0]],
 [[0,0.88],[14,0.8],[18,1.6],[22,3.5],[26,4.6],[30,4.9],[35,4.6],[42,4.1],[50,3.6],[60,3.2],[72,3.0],[86,2.7],[100,2.5],[120,2.3],[140,2.15],[165,1.95],[190,1.7]],
 [[0,0.9],[16,0.82],[21,1.4],[27,2.2],[33,2.5],[40,2.4],[50,2.2],[62,2.1],[75,1.95],[90,2.0],[105,1.85],[120,1.75],[140,1.7],[160,1.55],[190,1.4]],
 [[0,0.85],[25,0.85],[32,1.1],[42,1.5],[50,1.75],[58,1.7],[70,1.6],[85,1.55],[100,1.5],[125,1.45],[150,1.3],[190,1.1]],
 [[0,0.92],[11,0.78],[15,1.8],[19,4.0],[22,5.0],[25,5.1],[29,4.8],[34,4.4],[40,4.3],[46,4.4],[52,4.0],[60,3.7],[70,3.5],[82,3.3],[95,3.4],[110,3.2],[125,2.9],[140,2.7],[155,2.6],[170,2.5],[190,2.33]],
 [[0,0.88],[13,0.8],[17,1.8],[21,3.8],[25,4.6],[30,4.5],[36,4.0],[44,3.5],[54,3.1],[66,2.8],[80,2.6],[95,2.5],[110,2.3],[130,2.1],[150,1.95],[170,1.8],[190,1.6]],
 [[0,0.9],[15,0.85],[19,1.7],[24,3.2],[29,3.8],[35,3.6],[43,3.2],[53,2.8],[65,2.6],[78,2.5],[92,2.3],[108,2.2],[125,2.0],[145,1.85],[165,1.7],[190,1.5]],
 [[0,0.86],[12,0.78],[16,1.9],[20,4.5],[23,5.3],[27,5.0],[32,4.5],[38,4.2],[46,3.9],[56,3.6],[70,3.3],[85,3.0],[100,2.8],[120,2.6],[140,2.45],[160,2.3],[190,2.1]],
 [[0,0.92],[17,0.88],[22,1.6],[28,2.6],[34,3.0],[42,2.8],[52,2.5],[62,2.3],[74,2.2],[86,2.3],[98,2.1],[112,2.0],[128,1.9],[145,1.75],[165,1.6],[190,1.45]],
 [[0,0.88],[14,0.82],[18,1.9],[22,3.9],[26,4.3],[31,4.1],[38,3.8],[46,3.4],[56,3.1],[68,2.9],[82,2.8],[98,2.6],[115,2.45],[135,2.3],[155,2.1],[175,1.95],[190,1.85]],
 [[0,0.9],[16,0.85],[21,1.5],[26,2.2],[32,2.4],[40,2.2],[50,2.0],[62,1.85],[75,1.8],[90,1.7],[110,1.65],[130,1.55],[155,1.45],[190,1.3]]
];

const panelLines = [m1Lines, m4Lines, m5Lines, m2Lines, m13Lines, m10Lines, m3Lines, m6Lines];

// ---------- layout ----------
const colLeft = [79.5, 606.5, 1133.5, 1660.5];
const rowTop = [47.7, 686.7];
const panelW = 518, panelH = 605, stripH = 25;
const xMin = -9.5, xMax = 199.5, yMin = -0.52, yMax = 11.1;
const FONT = 'Liberation Sans, Arial, sans-serif';

const grids = [], xAxes = [], yAxes = [], series = [], graphics = [];

panelNames.forEach((name, i) => {
  const col = i % 4, row = Math.floor(i / 4);
  const left = colLeft[col], top = rowTop[row];
  grids.push({ left: left, top: top, width: panelW, height: panelH, show: false, containLabel: false });
  xAxes.push({ type: 'value', gridIndex: i, min: xMin, max: xMax, show: false });
  yAxes.push({
    type: 'value', gridIndex: i, min: yMin, max: yMax, show: col === 0,
    axisLine: { show: false },
    axisTick: { show: true, length: 4, lineStyle: { color: '#333333', width: 1.3 }, customValues: yMajorBreaks },
    axisLabel: { show: true, customValues: yMajorBreaks, formatter: v => Number(v).toFixed(1), color: '#4D4D4D', fontSize: 13, fontFamily: FONT, margin: 7 },
    splitLine: { show: false }, minorSplitLine: { show: false }
  });

  const gridData = [];
  yMajorBreaks.forEach(v => gridData.push({ yAxis: v, lineStyle: { color: '#EBEBEB', width: 1.5, type: 'solid' } }));
  yMinorBreaks.forEach(v => gridData.push({ yAxis: v, lineStyle: { color: '#F0F0F0', width: 0.8, type: 'solid' } }));
  xMajorBreaks.forEach(v => gridData.push({ xAxis: v, lineStyle: { color: '#EBEBEB', width: 1.5, type: 'solid' } }));
  xMinorBreaks.forEach(v => gridData.push({ xAxis: v, lineStyle: { color: '#F0F0F0', width: 0.8, type: 'solid' } }));

  panelLines[i].forEach((line, j) => {
    const s = {
      type: 'line', xAxisIndex: i, yAxisIndex: i, data: line,
      showSymbol: false, symbol: 'none', smooth: 0.4, silent: true, clip: false, z: 2,
      lineStyle: { color: 'rgba(0,0,0,0.13)', width: 1.4 },
      emphasis: { disabled: true }
    };
    if (j === 0) {
      s.markLine = {
        silent: true, symbol: 'none', z: 1, animation: false,
        label: { show: false }, emphasis: { disabled: true },
        data: gridData
      };
    }
    series.push(s);
  });

  graphics.push({ type: 'rect', z: 50, silent: true,
    shape: { x: left, y: top - stripH, width: panelW, height: stripH },
    style: { fill: '#D9D9D9', stroke: '#333333', lineWidth: 1.2 } });
  graphics.push({ type: 'text', z: 51, silent: true, x: left + panelW / 2, y: top - stripH / 2,
    style: { text: name, align: 'center', verticalAlign: 'middle', fill: '#1A1A1A', font: '13.5px ' + FONT } });
  graphics.push({ type: 'rect', z: 50, silent: true,
    shape: { x: left, y: top, width: panelW, height: panelH },
    style: { fill: 'none', stroke: '#333333', lineWidth: 1.2 } });
});

graphics.push({ type: 'text', z: 51, silent: true, x: 33, y: 1243, rotation: Math.PI / 2,
  style: { text: yAxisTitle, align: 'right', verticalAlign: 'middle', fill: '#1A1A1A', font: '15px ' + FONT } });

const chart = echarts.init(document.getElementById('chart'), null, { renderer: 'canvas', width: 2200, height: 1298 });
chart.setOption({
  animation: false,
  backgroundColor: '#FFFFFF',
  textStyle: { fontFamily: FONT },
  grid: grids, xAxis: xAxes, yAxis: yAxes, series: series,
  graphic: { elements: graphics }
});
</script>
</body></html>
